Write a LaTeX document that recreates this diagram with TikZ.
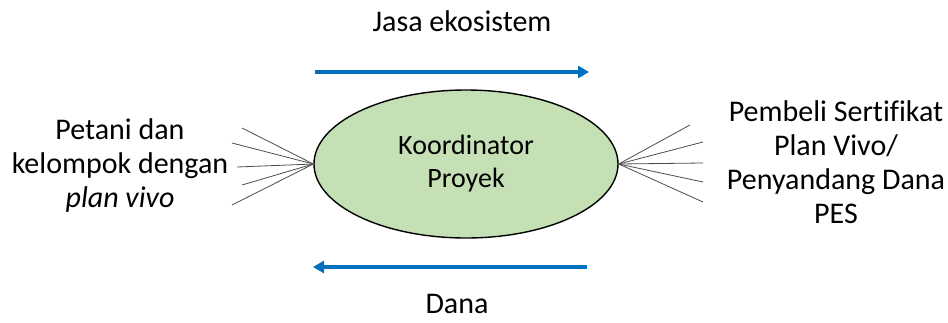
\documentclass[tikz,border=0pt]{standalone}
\usepackage{fontspec}
\setmainfont{Carlito}[Ligatures=CommonOff]
\usetikzlibrary{shapes.geometric,arrows.meta}
\definecolor{koorgreen}{HTML}{C5E0B4}
\definecolor{flowblue}{HTML}{0070C0}
\tikzset{
  fan/.style={draw=black!70, line width=0.8pt},
  flow/.style={draw=flowblue, line width=4pt, -{Triangle[length=11pt,width=12pt]}},
  label/.style={font=\fontsize{30}{34}\selectfont, align=center, inner sep=0pt}
}

\begin{document}
\begin{tikzpicture}[x=1pt,y=-1pt]
\useasboundingbox (0,0) rectangle (948,322);
% the project coordinator in the middle
\node[ellipse, draw, line width=1.4pt, fill=koorgreen, minimum width=304pt, minimum height=148pt, inner sep=0pt,
  align=center, font=\fontsize{28}{33}\selectfont] (koor) at (466,164) {Koordinator\\Proyek};
% flows
\coordinate (jasaA) at (315,72);
\coordinate (jasaB) at (589,72);
\coordinate (danaA) at (587,267);
\coordinate (danaB) at (313,267);
\draw[flow] (jasaA) -- (jasaB);
\draw[flow] (danaA) -- (danaB);
\node[label] (jasa) at (462,21) {Jasa ekosistem};
\node[label] (dana) at (457,304) {Dana};
% the two groups at the ends
\node[label] (petani) at (120,165) {Petani dan\\kelompok dengan\\\textit{plan vivo}};
\node[label] (pembeli) at (836,162) {Pembeli Sertifikat\\Plan Vivo/\\Penyandang Dana\\PES};
\coordinate (l1) at (242,128);
\coordinate (l2) at (232,143);
\coordinate (l3) at (237,167);
\coordinate (l4) at (242,185);
\coordinate (l5) at (232,205);
\coordinate (r1) at (690,125);
\coordinate (r2) at (703,142);
\coordinate (r3) at (703,163);
\coordinate (r4) at (703,182);
\coordinate (r5) at (703,202);
\foreach \i in {1,...,5} {
  \draw[fan] (koor.west) -- (l\i);
  \draw[fan] (koor.east) -- (r\i);
}
\end{tikzpicture}
\end{document}
